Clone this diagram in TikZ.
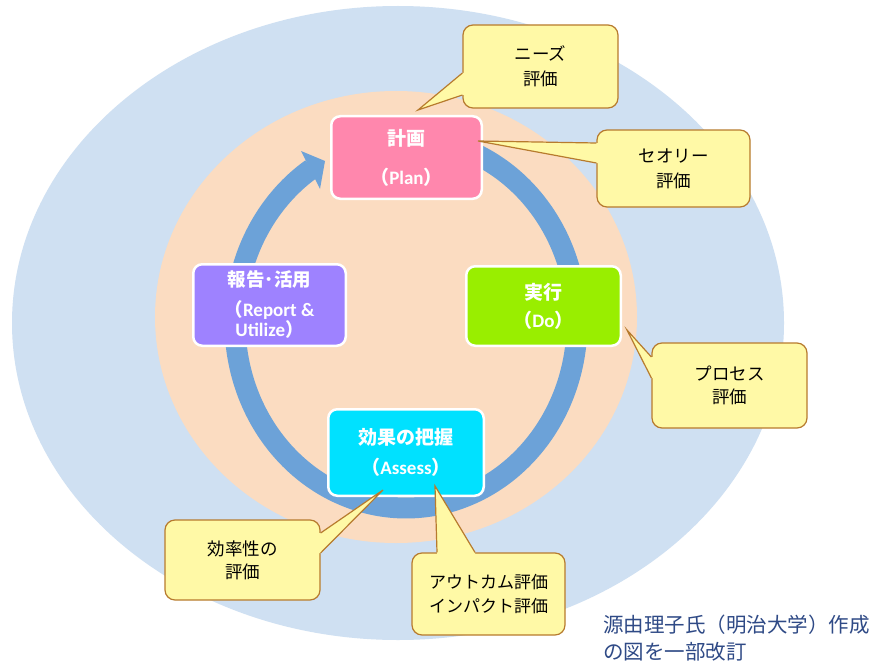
\documentclass[tikz,border=0pt]{standalone}
\usepackage{fontspec}
\newfontfamily\jp{Noto Sans CJK JP}
\newfontfamily\lat{Carlito}
\usetikzlibrary{arrows.meta,shapes.geometric,calc}
\definecolor{bgblue}{HTML}{CFE0F2}
\definecolor{peach}{HTML}{FBDCC1}
\definecolor{ringblue}{HTML}{6CA2D8}
\definecolor{cpink}{HTML}{FF87AD}
\definecolor{cpurple}{HTML}{9E82FF}
\definecolor{cgreen}{HTML}{99EE00}
\definecolor{ccyan}{HTML}{00E1FF}
\definecolor{cyellow}{HTML}{FFF9A6}
\definecolor{cbrown}{HTML}{B77B2E}
\definecolor{cnavy}{HTML}{2F4A86}
\newcommand\jpb[1]{{\jp\bfseries #1}}
\newcommand\latb[1]{{\lat\bfseries\fontsize{19}{19}\selectfont #1}}
\newcommand\callptr[4]{%
  \fill[cyellow] ($(#1)+#4$) -- (#1) -- (#3) -- (#2) -- ($(#2)+#4$) -- cycle;
  \draw[callline] (#1) -- (#3) -- (#2);}
\begin{document}
\begin{tikzpicture}[x=1pt,y=-1pt,
  boxnode/.style={rounded corners=9pt, draw=white, line width=2.5pt, text=white, inner sep=0pt, align=center},
  callnode/.style={rounded corners=10pt, draw=cbrown, fill=cyellow, line width=1.2pt, text=black, inner sep=0pt, align=center},
  callline/.style={draw=cbrown, line width=1.2pt},
  ringstyle/.style={draw=ringblue, line width=21pt}]
\useasboundingbox (0,0) rectangle (880,666);
\fill[white] (0,0) rectangle (880,666);
\node[ellipse, fill=bgblue, minimum width=772pt, minimum height=634pt, inner sep=0pt] (outer) at (398,323) {};
\node[ellipse, fill=peach, minimum width=482pt, minimum height=452pt, inner sep=0pt] (inner) at (396,317) {};
\draw[ringstyle] plot[smooth, domain=285:596.5, samples=100] ({406+171*cos(\x)},{323+185*sin(\x)});
\coordinate (headA) at (301,151);
\coordinate (headB) at (325,161);
\coordinate (headC) at (320,189);
\fill[ringblue] (headA) -- (headB) -- (headC) -- cycle;
% process boxes
\node[boxnode, fill=cpink, minimum width=150.5pt, minimum height=82.5pt, font=\fontsize{19}{39}\selectfont] (plan) at (406.5,157.5) {\jpb{計画}\\\jpb{（}\latb{Plan}\jpb{）}};
\node[boxnode, fill=cgreen, minimum width=154.5pt, minimum height=79.5pt, font=\fontsize{19}{28}\selectfont] (do) at (543.5,306) {\jpb{実行}\\\jpb{（}\latb{Do}\jpb{）}};
\node[boxnode, fill=ccyan, minimum width=155.5pt, minimum height=86.5pt, font=\fontsize{19}{30}\selectfont] (assess) at (406,452.5) {\jpb{効果の把握}\\\jpb{（}\latb{Assess}\jpb{）}};
\node[boxnode, fill=cpurple, minimum width=152.5pt, minimum height=81.5pt, font=\fontsize{18.5}{20}\selectfont] (report) at (269.5,305) {\jpb{報告･活用}\\[10pt]\jpb{（}\latb{Report \&}\\\latb{Utilize}\jpb{）}};
% callouts
\node[callnode, minimum width=155pt, minimum height=83pt, font=\jp\fontsize{17.5}{25}\selectfont] (needs) at (540.5,66.5) {ニーズ\\評価};
\node[callnode, minimum width=153pt, minimum height=77pt, font=\jp\fontsize{17.5}{25}\selectfont] (theory) at (673.5,168.5) {セオリー\\評価};
\node[callnode, minimum width=155pt, minimum height=85pt, font=\jp\fontsize{17.5}{23}\selectfont] (process) at (729.5,385.5) {プロセス\\評価};
\node[callnode, minimum width=155pt, minimum height=80pt, font=\jp\fontsize{17.5}{23}\selectfont] (effic) at (242.5,560) {効率性の\\評価};
\node[callnode, minimum width=153pt, minimum height=82pt, font=\jp\fontsize{17}{24}\selectfont] (outcome) at (488.5,594) {アウトカム評価\\インパクト評価};
% pointer coordinates
\coordinate (nz1) at ([yshift=-6.5pt]needs.west);
\coordinate (nz2) at ([yshift=-28.5pt]needs.west);
\coordinate (nzt) at (418,110);
\coordinate (th1) at ([yshift=25.5pt]theory.west);
\coordinate (th2) at ([yshift=5.5pt]theory.west);
\coordinate (tht) at (478,141);
\coordinate (pr1) at ([yshift=28.5pt]process.west);
\coordinate (pr2) at ([yshift=7.5pt]process.west);
\coordinate (prt) at (627,330);
\coordinate (ef1) at ([yshift=27pt]effic.east);
\coordinate (ef2) at ([yshift=7pt]effic.east);
\coordinate (eft) at (383,490);
\coordinate (ou1) at ([xshift=-51.5pt]outcome.north);
\coordinate (ou2) at ([xshift=-13.5pt]outcome.north);
\coordinate (out) at (435,486);
\callptr{nz1}{nz2}{nzt}{(3,0)}
\callptr{th1}{th2}{tht}{(3,0)}
\callptr{pr1}{pr2}{prt}{(3,0)}
\callptr{ef1}{ef2}{eft}{(-3,0)}
\callptr{ou1}{ou2}{out}{(0,3)}
% citation
\node[anchor=west, align=left, text=cnavy, inner sep=0pt, font=\jp\fontsize{20.5}{27}\selectfont] (cite) at (603,638.5) {源由理子氏（明治大学）作成\\の図を一部改訂};
\end{tikzpicture}
\end{document}
